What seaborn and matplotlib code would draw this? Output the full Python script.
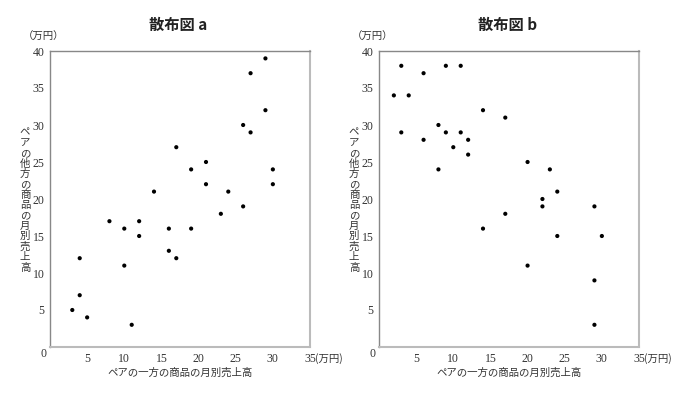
import matplotlib
matplotlib.use("Agg")
import matplotlib.pyplot as plt
import seaborn as sns
import pandas as pd

# ---- data ----
a_x = [29, 27, 29, 26, 27, 17, 21, 19, 30, 21, 30, 14, 24, 26, 23, 8, 12, 10, 16, 19, 12, 16, 17, 4, 10, 4, 3, 5, 11]
a_y = [39, 37, 32, 30, 29, 27, 25, 24, 24, 22, 22, 21, 21, 19, 18, 17, 17, 16, 16, 16, 15, 13, 12, 12, 11, 7, 5, 4, 3]
b_x = [3, 9, 11, 6, 2, 4, 14, 17, 8, 3, 9, 11, 6, 12, 10, 12, 20, 23, 8, 24, 22, 22, 29, 17, 14, 24, 30, 20, 29, 29]
b_y = [38, 38, 38, 37, 34, 34, 32, 31, 30, 29, 29, 29, 28, 28, 27, 26, 25, 24, 24, 21, 20, 19, 19, 18, 16, 15, 15, 11, 9, 3]

titles = ["散布図 a", "散布図 b"]
x_label = "ペアの一方の商品の月別売上高"
y_label = "ペアの他方の商品の月別売上高"
unit_top = "（万円）"
unit_x = "(万円)"
x_ticks = [5, 10, 15, 20, 25, 30, 35]
y_ticks = [5, 10, 15, 20, 25, 30, 35, 40]

sns.set_style("white")
plt.rcParams['font.family'] = ['Noto Sans CJK JP', 'DejaVu Sans']

fig = plt.figure(figsize=(6.95, 3.97), dpi=100)
W, H = 695, 397
boxes = [(50, 310), (379, 639)]
top_px, bot_px = 51, 347

datasets = [(a_x, a_y), (b_x, b_y)]
txt_color = "#333333"
num_font = ['Liberation Serif', 'DejaVu Serif']
for (l, r), (xs, ys), title in zip(boxes, datasets, titles):
    ax = fig.add_axes([l / W, 1 - bot_px / H, (r - l) / W, (bot_px - top_px) / H])
    df = pd.DataFrame({"x": xs, "y": ys})
    sns.scatterplot(data=df, x="x", y="y", ax=ax, color="black", s=9,
                    edgecolor="none", legend=False)
    ax.set_xlim(0, 35)
    ax.set_ylim(0, 40)
    ax.set_xticks(x_ticks)
    ax.set_yticks(y_ticks)
    ax.set_xticklabels([str(t) for t in x_ticks])
    ax.set_yticklabels([str(t) for t in y_ticks])
    ax.tick_params(axis="both", length=0, pad=4, labelsize=8.5, labelcolor=txt_color)
    for lbl in ax.get_xticklabels() + ax.get_yticklabels():
        lbl.set_fontfamily(num_font)
    ax.set_xlabel("")
    ax.set_ylabel("")
    for side in ["left", "top"]:
        ax.spines[side].set_color("#888888")
        ax.spines[side].set_linewidth(1.0)
    for side in ["right", "bottom"]:
        ax.spines[side].set_color("#bbbbbb")
        ax.spines[side].set_linewidth(1.5)
    cx = (l + r) / 2
    fig.text(cx / W - 0.002, 1 - 25 / H, title, ha="center", va="center",
             fontsize=11, fontweight="bold", color="#222222")
    # unit at top-left
    fig.text((l - 27) / W, 1 - 37 / H, unit_top, ha="left", va="center",
             fontsize=7.5, color=txt_color)
    # unit after 35 on x-axis
    ax.annotate(unit_x, xy=(35, 0), xycoords="data", xytext=(3.5, -8.5),
                textcoords="offset points", ha="left", va="center",
                fontsize=7.5, color=txt_color)
    # origin label
    ax.annotate("0", xy=(0, 0), xycoords="data", xytext=(-5, -5),
                textcoords="offset points", ha="center", va="center",
                family=num_font, fontsize=8.5, color=txt_color)
    # x label
    fig.text(cx / W, 1 - 373 / H, x_label, ha="center", va="center",
             fontsize=7.5, color=txt_color)
    # vertical y label
    fig.text((l - 25) / W, 1 - 200 / H, "\n".join(y_label), ha="center",
             va="center", fontsize=7.5, color=txt_color, linespacing=1.05)

fig.savefig("out.png", dpi=100)
